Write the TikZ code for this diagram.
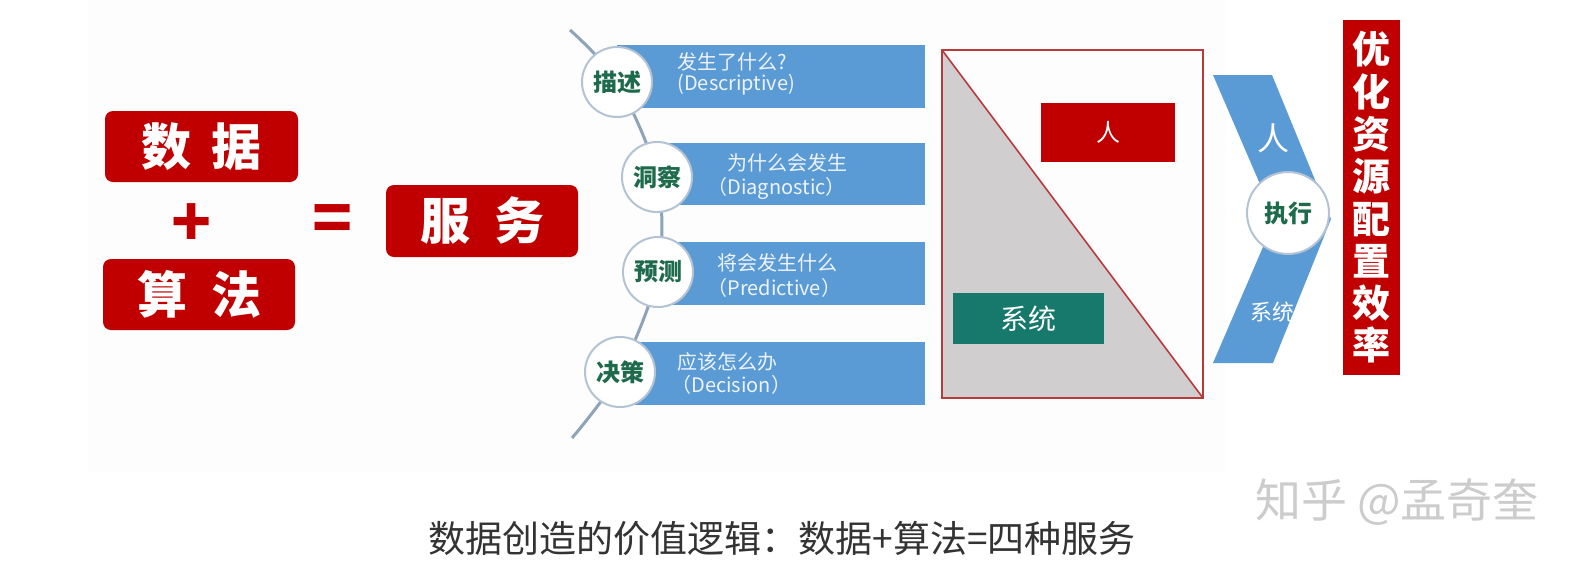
\documentclass[tikz,border=0pt]{standalone}
\usepackage{fontspec}
\setmainfont{Noto Sans CJK SC}
\definecolor{dred}{HTML}{C00000}
\definecolor{barblue}{HTML}{5B9BD5}
\definecolor{teal}{HTML}{17786C}
\definecolor{trigray}{HTML}{D0CECE}
\definecolor{dgreen}{HTML}{1E6A4C}
\definecolor{spinec}{HTML}{8FA3B8}
\definecolor{circb}{HTML}{B4C3D3}
\definecolor{bartext}{HTML}{EEF3FA}
\definecolor{panelc}{HTML}{FDFDFD}
\definecolor{edgered}{HTML}{B83A3A}
\begin{document}
\begin{tikzpicture}[x=0.5pt,y=-0.5pt,
  redbox/.style={fill=dred, rounded corners=4pt, text=white, font=\bfseries\fontsize{25}{25}\selectfont, inner sep=0pt},
  bigsym/.style={text=dred, font=\bfseries\fontsize{33}{33}\selectfont, inner sep=0pt},
  circ/.style={circle, draw=circb, line width=1pt, fill=white, text=dgreen, font=\bfseries\fontsize{12}{12}\selectfont, inner sep=0pt},
  bartxt/.style={text=bartext, font=\fontsize{10}{10}\selectfont, inner sep=0pt, anchor=west},
  spine/.style={draw=spinec, line width=1.5pt},
  bar/.style={fill=barblue},
  ]
\useasboundingbox (0,0) rectangle (1584,574);
\fill[white] (0,0) rectangle (1584,574);
\fill[panelc] (88,0) rectangle (1225,472);

% left equation
\node[redbox, minimum width=96.5pt, minimum height=35.5pt] (data) at (201.5,146.5) {数\hspace{10pt}据};
\node[bigsym] (plus) at (192,225) {+};
\node[redbox, minimum width=96pt, minimum height=35.5pt] (algo) at (199,294.5) {算\hspace{12pt}法};
\node[bigsym] (eq) at (333,224) {=};
\node[redbox, minimum width=96pt, minimum height=36pt] (serv) at (482,221) {服\hspace{12pt}务};

% bars
\fill[bar] (617,45) rectangle (925,108);
\fill[bar] (657,143) rectangle (925,205);
\fill[bar] (658,242) rectangle (925,305);
\fill[bar] (620,342) rectangle (925,405);

% spine
\coordinate (s0) at (570,30);
\coordinate (p1) at (617,82);
\coordinate (p2) at (657,177);
\coordinate (p3) at (658,272);
\coordinate (p4) at (620,372);
\coordinate (s5) at (572,438);
\draw[spine] plot[smooth, tension=0.55] coordinates {(s0) (p1) (p2) (p3) (p4) (s5)};

\node[circ, minimum size=35pt] (c1) at (p1) {描述};
\node[circ, minimum size=35pt] (c2) at (p2) {洞察};
\node[circ, minimum size=35pt] (c3) at (p3) {预测};
\node[circ, minimum size=35pt] (c4) at (p4) {决策};

\node[bartxt] (b1a) at (677,62) {发生了什么?};
\node[bartxt] (b1b) at (677,85) {(Descriptive)};
\node[bartxt] (b2a) at (727,163) {为什么会发生};
\node[bartxt] (b2b) at (707,188) {（Diagnostic）};
\node[bartxt] (b3a) at (717,263) {将会发生什么};
\node[bartxt] (b3b) at (707,288) {（Predictive）};
\node[bartxt] (b4a) at (677,362) {应该怎么办};
\node[bartxt] (b4b) at (671,385) {（Decision）};

% person/system rectangle
\fill[trigray] (942,50) -- (942,398) -- (1203,398) -- cycle;
\draw[edgered, line width=1pt] (942,50) rectangle (1203,398);
\draw[edgered, line width=0.8pt] (942,50) -- (1203,398);
\node[fill=dred, text=white, minimum width=67pt, minimum height=29.5pt, inner sep=0pt, font=\fontsize{12}{12}\selectfont] (ren) at (1108,132.5) {人};
\node[fill=teal, text=white, minimum width=75.5pt, minimum height=25.5pt, inner sep=0pt, font=\fontsize{14}{14}\selectfont] (sys) at (1028.5,318.5) {系统};

% chevron
\fill[barblue] (1213,75) -- (1272,75) -- (1331,219) -- (1273,363) -- (1213,363) -- (1275,219) -- cycle;
\node[text=white, inner sep=0pt, font=\fontsize{16}{16}\selectfont] (cren) at (1273,138) {人};
\node[text=white, inner sep=0pt, font=\fontsize{11}{11}\selectfont] (csys) at (1272,312) {系统};
\node[circ, minimum size=41pt] (exe) at (1288,213) {执行};

% result
\node[fill=dred, text=white, minimum width=28.5pt, minimum height=177.5pt, inner sep=0pt, align=center, font=\bfseries\fontsize{19}{21.15}\selectfont] (res) at (1371.5,197.5) {优\\化\\资\\源\\配\\置\\效\\率};

% caption and watermark
\node[text=black!80, inner sep=0pt, font=\fontsize{18.5}{18.5}\selectfont] (cap) at (782,538) {数据创造的价值逻辑：数据+算法=四种服务};
\node[text=black!20, inner sep=0pt, font=\fontsize{23}{23}\selectfont] (wm) at (1397,502) {知乎 @孟奇奎};
\end{tikzpicture}
\end{document}
